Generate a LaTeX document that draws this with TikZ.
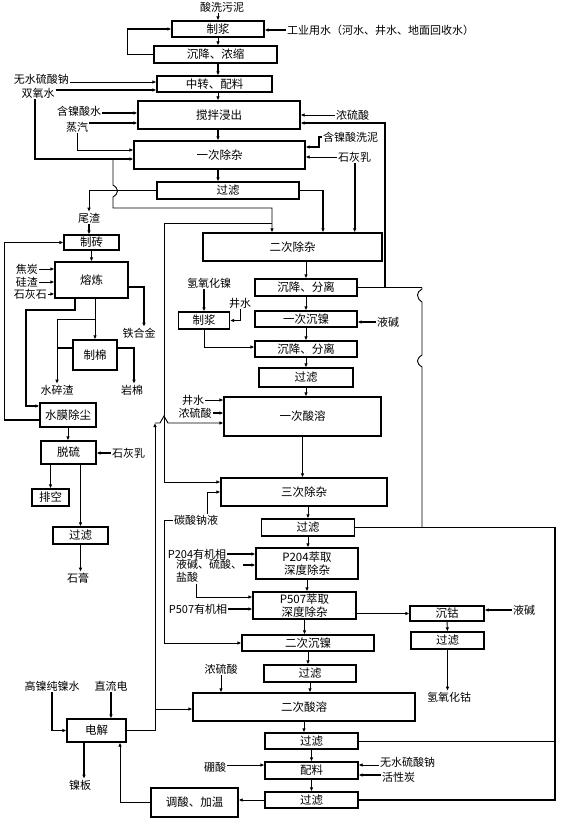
\documentclass[tikz,border=0pt]{standalone}
\usepackage{fontspec}
\setmainfont{Noto Sans CJK SC}
\usetikzlibrary{arrows.meta}
\tikzset{
  box/.style={draw, line width=1.3pt, inner sep=0pt, align=center,
    font=\fontsize{11.5}{12.5}\selectfont},
  lbl/.style={inner sep=1pt, align=left, font=\fontsize{11}{13}\selectfont},
  arr/.style={-{Latex[length=4pt,width=3.6pt]}, line width=0.9pt},
  thk/.style={line width=1.6pt},
}
\begin{document}
\begin{tikzpicture}[x=1pt,y=-1pt]
  \useasboundingbox (0,0) rectangle (568,824);
  % process boxes
  \node[box, minimum width=92, minimum height=16] (zj) at (218,29) {制浆};
  \node[box, minimum width=123, minimum height=17] (cn) at (215.5,54.5) {沉降、浓缩};
  \node[box, minimum width=115, minimum height=16] (zp) at (214.5,84) {中转、配料};
  \node[box, minimum width=162, minimum height=28] (jb) at (219,115) {搅拌浸出};
  \node[box, minimum width=171, minimum height=28] (cz1) at (219.5,155) {一次除杂};
  \node[box, minimum width=142, minimum height=17] (gl1) at (228,190.5) {过滤};
  \node[box, minimum width=179, minimum height=28] (cz2) at (292.5,247) {二次除杂};
  \node[box, minimum width=102, minimum height=17] (fl1) at (306,287.5) {沉降、分离};
  \node[box, minimum width=102, minimum height=16] (cn1) at (306,319) {一次沉镍};
  \node[box, minimum width=102, minimum height=16] (fl2) at (306,349) {沉降、分离};
  \node[box, minimum width=94, minimum height=19] (gl2) at (306,377.5) {过滤};
  \node[box, minimum width=51, minimum height=17] (zj2) at (204,320.5) {制浆};
  \node[box, minimum width=157, minimum height=39] (sr1) at (302.5,416.5) {一次酸溶};
  \node[box, minimum width=166, minimum height=28] (cz3) at (304,492) {三次除杂};
  \node[box, minimum width=93, minimum height=17] (gl3) at (308,527.5) {过滤};
  \node[box, minimum width=102, minimum height=31] (p204) at (307,563.5) {P204萃取\\深度除杂};
  \node[box, minimum width=103, minimum height=27] (p507) at (304.5,605.5) {P507萃取\\深度除杂};
  \node[box, minimum width=132, minimum height=16] (cn2) at (308,643) {二次沉镍};
  \node[box, minimum width=92, minimum height=17] (gl4) at (310,673.5) {过滤};
  \node[box, minimum width=222, minimum height=28] (sr2) at (304,707) {二次酸溶};
  \node[box, minimum width=93, minimum height=16] (gl5) at (311.5,741) {过滤};
  \node[box, minimum width=93, minimum height=17] (pl) at (311.5,770.5) {配料};
  \node[box, minimum width=93, minimum height=16] (gl6) at (311.5,800) {过滤};
  \node[box, minimum width=87, minimum height=29] (tw) at (194.5,802.5) {调酸、加温};
  \node[box, minimum width=59, minimum height=23] (dj) at (96.5,730.5) {电解};
  \node[box, minimum width=74, minimum height=15] (cg) at (447,613.5) {沉钴};
  \node[box, minimum width=73, minimum height=17] (gl7) at (447.5,640.5) {过滤};
  \node[box, minimum width=55, minimum height=15] (zz) at (91.5,242.5) {制砖};
  \node[box, minimum width=73, minimum height=36] (rl) at (91.5,280) {熔炼};
  \node[box, minimum width=44, minimum height=30] (zm) at (95,355) {制棉};
  \node[box, minimum width=56, minimum height=24] (sm) at (68,415) {水膜除尘};
  \node[box, minimum width=55, minimum height=23] (tl) at (68.5,452.5) {脱硫};
  \node[box, minimum width=37, minimum height=17] (pk) at (50.5,497.5) {排空};
  \node[box, minimum width=55, minimum height=17] (gl8) at (80.5,535.5) {过滤};
  % materials
  \node[lbl] (sxwn) at (222,7) {酸洗污泥};
  \node[lbl, anchor=west] (gysy) at (286,30) {工业用水（河水、井水、地面回收水）};
  \node[lbl, anchor=east] (wsn1) at (70,79) {无水硫酸钠};
  \node[lbl] (syh) at (38,93) {双氧水};
  \node[lbl] (hnsw) at (79,111) {含镍酸水};
  \node[lbl] (zq) at (77,127) {蒸汽};
  \node[lbl, anchor=west] (nls1) at (335,115) {浓硫酸};
  \node[lbl, anchor=west] (hnxn) at (322,137) {含镍酸洗泥};
  \node[lbl, anchor=west] (shr1) at (337,157) {石灰乳};
  \node[lbl] (wz) at (89,218) {尾渣};
  \node[lbl, anchor=east] (jt) at (39,269) {焦炭};
  \node[lbl, anchor=east] (gz) at (39,282) {硅渣};
  \node[lbl, anchor=east] (shs) at (48,294) {石灰石};
  \node[lbl] (thj) at (139,333) {铁合金};
  \node[lbl] (ssz) at (57,390) {水碎渣};
  \node[lbl] (ym) at (132,390) {岩棉};
  \node[lbl, anchor=west] (shr2) at (111,453) {石灰乳};
  \node[lbl] (sg) at (78,578) {石膏};
  \node[lbl] (qyhn) at (209,283) {氢氧化镍};
  \node[lbl] (js1) at (240,303) {井水};
  \node[lbl, anchor=west] (yj1) at (376,322) {液碱};
  \node[lbl] (js2) at (193,400) {井水};
  \node[lbl] (nls2) at (195,413) {浓硫酸};
  \node[lbl] (tsnl) at (196,520) {碳酸钠液};
  \node[lbl] (p204y) at (197,554) {P204有机相};
  \node[lbl, anchor=north west] (yjls) at (175,558) {液碱、硫酸、\\盐酸};
  \node[lbl] (p507y) at (198,609) {P507有机相};
  \node[lbl, anchor=west] (yj2) at (512,610) {液碱};
  \node[lbl] (qyhg) at (449,697) {氢氧化钴};
  \node[lbl] (nls3) at (221,669) {浓硫酸};
  \node[lbl] (gnc) at (52,686) {高镍纯镍水};
  \node[lbl] (zld) at (111,686) {直流电};
  \node[lbl] (nb) at (80,785) {镍板};
  \node[lbl] (ps) at (215,767) {硼酸};
  \node[lbl, anchor=west] (wsn2) at (379,762) {无水硫酸钠};
  \node[lbl, anchor=west] (hxt) at (381,777) {活性炭};
  % junctions
  \coordinate (j1) at (113,159);
  \coordinate (j2) at (272,223);
  \coordinate (j3) at (164,223);
  \coordinate (j4) at (155,423);
  \coordinate (j5) at (155,709);
  \coordinate (k1) at (26,310);
  \coordinate (k2) at (95,319);
  \coordinate (r1) at (385,287.5);
  \coordinate (r2) at (422,287.5);
  \coordinate (r3) at (555,527.5);
  \begin{scope}[arr]
    % leaching line
    \draw (sxwn.south -| zj.north) -- (zj.north);
    \draw[thk] (gysy.west) -- (gysy.west -| zj.east);
    \draw[thk] (cn.west) -- ++(-26,0) |- (zj.west);
    \draw (zj.south) -- (zj.south |- cn.north);
    \draw[thk] (zj.south |- cn.south) -- (zj.south |- zp.north);
    \draw (zj.south |- zp.south) -- (zj.south |- jb.north);
    \draw[thk] (zj.south |- jb.south) -- (zj.south |- cz1.north);
    \draw[thk] (zj.south |- cz1.south) -- (zj.south |- gl1.north);
    \draw ([yshift=-3]wsn1.east) -- ([yshift=-3]wsn1.east -| zp.west);
    \draw[thk] ([yshift=3]syh.east) -- ([yshift=3]syh.east -| zp.west);
    \draw[thk] ([xshift=-3]syh.south) |- ([yshift=-4]cz1.west);
    \draw[thk] ([yshift=-2]hnsw.east) -- ([yshift=-2]hnsw.east -| jb.west);
    \draw[thk] ([yshift=4]zq.east) -- ([yshift=4]zq.east -| jb.west);
    \draw (zq.south) |- ([yshift=5]cz1.west);
    \draw (nls1.west) -- (nls1.west -| jb.east);
    \draw[thk] (r1) |- ([yshift=-8]jb.east);
    \draw[thk] (hnxn.west) -- ++(-3,0) |- ([yshift=8]cz1.east);
    \draw (shr1.west) -- (shr1.west -| cz1.east);
    \draw[thk] (shr1.south) -- (shr1.south |- cz2.north);
    \draw[thk] (gl1.east) -| ([xshift=30.5]cz2.north);
    \draw (gl1.west) -| (wz.north);
    \draw (j1) -- (113,185) .. controls (119,189) and (119,193) .. (113,197)
      -- (113,208) -| ([xshift=-20.5]cz2.north);
    \draw (j2) -- (j3) |- ([yshift=10]cz3.west);
    % slag line
    \draw[thk] (wz.south) -- (wz.south |- zz.north);
    \draw[thk] (zz.south) -- (zz.south |- rl.north);
    \draw (jt.east) -- (jt.east -| rl.west);
    \draw (gz.east) -- (gz.east -| rl.west);
    \draw (shs.east) -- (shs.east -| rl.west);
    \draw[thk] ([yshift=-5]sm.west) -- ++(-35,0) |- (zz.west);
    \draw[thk] ([xshift=-16.5]rl.south) |- (k1) |- ([yshift=9]sm.west);
    \draw (zm.north |- rl.south) -- (zm.north);
    \draw (k2) -| (ssz.north);
    \draw[-, thk] ([yshift=7]zm.west) -- ([yshift=7]zm.west -| ssz.north);
    \draw[thk] ([yshift=-7]rl.east) -| ([xshift=5]thj.north);
    \draw[thk] ([yshift=7]zm.east) -| ([xshift=2]ym.north);
    \draw (sm.south) -- (sm.south |- tl.north);
    \draw[thk] (shr2.west) -- (shr2.west -| tl.east);
    \draw (pk.north |- tl.south) -- (pk.north);
    \draw (gl8.north |- tl.south) -- (gl8.north);
    \draw (gl8.south) -- (gl8.south |- sg.north);
    % nickel line
    \draw (fl1.north |- cz2.south) -- (fl1.north);
    \draw (fl1.south) -- (cn1.north);
    \draw (cn1.south) -- (fl2.north);
    \draw (fl2.south) -- (fl2.south |- gl2.north);
    \draw (gl2.south) -- (gl2.south |- sr1.north);
    \draw[thk] (zj2.north |- qyhn.south) -- (zj2.north);
    \draw (js1.south) |- (zj2.east);
    \draw[thk] (yj1.west) -- (yj1.west -| cn1.east);
    \draw (zj2.south) |- ([yshift=2]fl2.west);
    \draw (js2.east) -- (js2.east -| sr1.west);
    \draw[thk] (nls2.east) -- (nls2.east -| sr1.west);
    \draw (dj.east) -| (j4);
    \draw (j4) -- (160,423) -- (164,416) -- (168,423) -- (sr1.west |- j4);
    \draw (j5) -- (j5 -| sr2.west);
    \draw[thk] (sr1.south) -- (sr1.south |- cz3.north);
    \draw (tsnl.west) -- ++(-8,0) |- (cn2.west);
    \draw ([xshift=11]tsnl.north) |- (cz3.west);
    \draw (gl3.north |- cz3.south) -- (gl3.north);
    \draw (gl3.south) -- (gl3.south |- p204.north);
    % returns to leaching
    \draw[-, thk] (fl1.east) -- (r2);
    \draw[-, thk] (gl3.east) -- (r3) |- (gl6.east);
    \draw[-] (gl5.east) -- (gl5.east -| r3);
    \draw[-] (r2) -- (422,289) .. controls (416,292) and (416,298) .. (422,302)
      -- (422,355) .. controls (416,359) and (416,363) .. (422,367) -- (r2 |- r3);
    % extraction
    \draw[thk] (p204y.east) -- (p204y.east -| p204.west);
    \draw[thk] ([yshift=-7]yjls.north east) -- ([yshift=-7]yjls.north east -| p204.west);
    \draw ([xshift=21]yjls.south west) |- ([yshift=8.5]p507.west);
    \draw[thk] (p507y.east) -- (p507y.east -| p507.west);
    \draw (p204.south) -- (p204.south |- p507.north);
    \draw (p507.south) -- (p507.south |- cn2.north);
    \draw[thk] (p507.east |- cg.west) -- (cg.west);
    \draw[thk] (yj2.west) -- (yj2.west -| cg.east);
    \draw (cg.south) -- (gl7.north);
    \draw[thk] (gl7.south) -- (gl7.south |- qyhg.north);
    \draw (cn2.south) -- (cn2.south |- gl4.north);
    \draw (gl4.south) -- (gl4.south |- sr2.north);
    \draw (nls3.south) -- (nls3.south |- sr2.north);
    \draw (sr2.south) -- (sr2.south |- gl5.north);
    \draw (gl5.south) -- (pl.north);
    \draw (pl.south) -- (gl6.north);
    \draw ([yshift=2]ps.east) -- ([yshift=2]ps.east -| pl.west);
    \draw ([yshift=-3]wsn2.west) -- ([yshift=-3]wsn2.west -| pl.east);
    \draw[thk] ([yshift=2]hxt.west) -- ([yshift=2]hxt.west -| pl.east);
    \draw (gl6.west) -- (gl6.west -| tw.east);
    \draw (tw.west) -| ([xshift=23.5]dj.south);
    \draw[thk] (gnc.south) |- (dj.west);
    \draw[thk] (zld.south) -- (zld.south |- dj.north);
    \draw[thk] ([xshift=-12.5]dj.south) -- ([xshift=-12.5]dj.south |- nb.north);
  \end{scope}
\end{tikzpicture}
\end{document}
